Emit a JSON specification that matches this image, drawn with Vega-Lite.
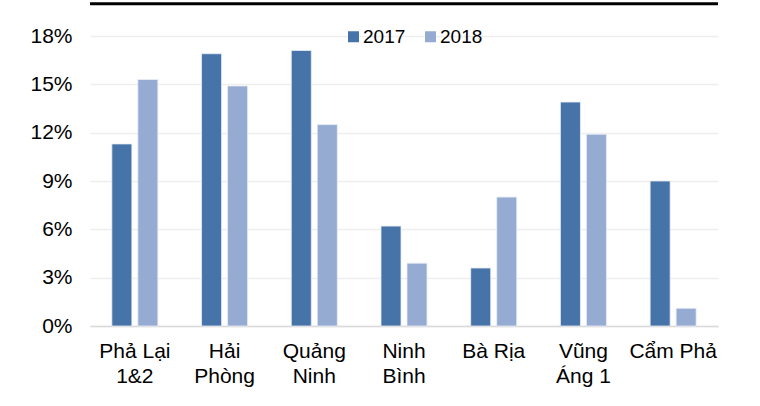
{
  "$schema": "https://vega.github.io/schema/vega-lite/v6.json",
  "width": 628,
  "height": 290,
  "autosize": {"type": "none"},
  "padding": {"left": 90, "top": 36, "right": 42, "bottom": 80},
  "background": "white",
  "config": {
    "font": "Liberation Sans",
    "view": {"stroke": null}
  },
  "datasets": {
    "bars": [
      {"plant": "Phả Lại|1&2", "year": "2017", "value": 0.113},
      {"plant": "Phả Lại|1&2", "year": "2018", "value": 0.153},
      {"plant": "Hải|Phòng", "year": "2017", "value": 0.169},
      {"plant": "Hải|Phòng", "year": "2018", "value": 0.149},
      {"plant": "Quảng|Ninh", "year": "2017", "value": 0.171},
      {"plant": "Quảng|Ninh", "year": "2018", "value": 0.125},
      {"plant": "Ninh|Bình", "year": "2017", "value": 0.062},
      {"plant": "Ninh|Bình", "year": "2018", "value": 0.039},
      {"plant": "Bà Rịa", "year": "2017", "value": 0.036},
      {"plant": "Bà Rịa", "year": "2018", "value": 0.080},
      {"plant": "Vũng|Áng 1", "year": "2017", "value": 0.139},
      {"plant": "Vũng|Áng 1", "year": "2018", "value": 0.119},
      {"plant": "Cẩm Phả", "year": "2017", "value": 0.090},
      {"plant": "Cẩm Phả", "year": "2018", "value": 0.011}
    ],
    "topline": [{"y": 0.2}]
  },
  "layer": [
    {
      "data": {"name": "bars"},
      "mark": {"type": "bar", "stroke": "#e8edf5", "strokeWidth": 0.8},
      "encoding": {
        "x": {
          "field": "plant",
          "type": "nominal",
          "sort": null,
          "scale": {"paddingInner": 0.487, "paddingOuter": 0.2435},
          "axis": {
            "title": null,
            "labelExpr": "split(datum.value, '|')",
            "labelAngle": 0,
            "labelFontSize": 21,
            "labelColor": "#000000",
            "labelLineHeight": 25,
            "labelBaseline": "top",
            "labelPadding": 14,
            "ticks": false,
            "domainColor": "#d9d9d9",
            "domainWidth": 1.5,
            "grid": false
          }
        },
        "xOffset": {
          "field": "year",
          "type": "nominal",
          "scale": {"paddingInner": 0.23, "paddingOuter": 0}
        },
        "y": {
          "field": "value",
          "type": "quantitative",
          "scale": {"domain": [0, 0.18], "nice": false, "zero": true},
          "axis": {
            "title": null,
            "format": ".0%",
            "values": [0, 0.03, 0.06, 0.09, 0.12, 0.15, 0.18],
            "labelFontSize": 21,
            "labelColor": "#000000",
            "labelPadding": 18,
            "ticks": false,
            "domain": false,
            "gridColor": "#eeeeee",
            "gridWidth": 1.5
          }
        },
        "color": {
          "field": "year",
          "type": "nominal",
          "scale": {"domain": ["2017", "2018"], "range": ["#4673a8", "#96abd2"]},
          "legend": {
            "title": null,
            "orient": "none",
            "direction": "horizontal",
            "legendX": 254,
            "legendY": -9,
            "symbolType": "square",
            "symbolSize": 121,
            "symbolStrokeWidth": 0,
            "labelFontSize": 19,
            "labelColor": "#000000",
            "labelOffset": 0,
            "columnPadding": 15
          }
        }
      }
    },
    {
      "data": {"name": "topline"},
      "mark": {"type": "rule", "color": "#000000", "strokeWidth": 3},
      "encoding": {
        "y": {"field": "y", "type": "quantitative"}
      }
    }
  ]
}
